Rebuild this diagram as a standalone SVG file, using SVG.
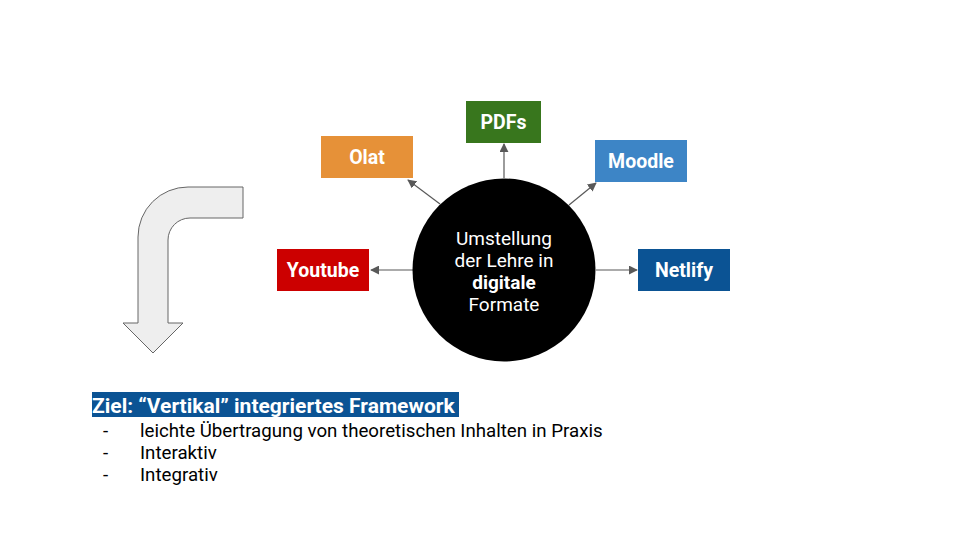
<svg xmlns="http://www.w3.org/2000/svg" width="960" height="540" viewBox="0 0 960 540">
<defs>
<marker id="ah" viewBox="0 0 10 10" refX="9" refY="5" markerWidth="9" markerHeight="9" markerUnits="userSpaceOnUse" orient="auto">
<path d="M0,0 L10,5 L0,10 Z" fill="#595959"/>
</marker>
<style>
.box text{font-family:Roboto,"Liberation Sans",sans-serif;font-weight:bold;font-size:19.5px;fill:#fff;text-anchor:middle}
.conn line{stroke:#595959;stroke-width:1.2;fill:none;marker-end:url(#ah)}
.ctext{font-family:Roboto,"Liberation Sans",sans-serif;font-size:19px;fill:#fff;text-anchor:middle}
.body{font-family:Roboto,"Liberation Sans",sans-serif;font-size:18.7px;fill:#000}
</style>
</defs>
<rect width="960" height="540" fill="#fff"/>
<g id="connectors" class="conn">
<line x1="504" y1="178" x2="504" y2="144"/>
<line x1="440" y1="204" x2="408" y2="180"/>
<line x1="569" y1="205" x2="596" y2="183"/>
<line x1="413" y1="270" x2="371" y2="270"/>
<line x1="596" y1="270" x2="637" y2="270"/>
</g>
<g id="center">
<circle cx="504" cy="270" r="91.5" fill="#000"/>
<text class="ctext" x="504" y="245">Umstellung</text>
<text class="ctext" x="504" y="267">der Lehre in</text>
<text class="ctext" x="504" y="289" font-weight="bold">digitale</text>
<text class="ctext" x="504" y="311">Formate</text>
</g>
<g id="pdfs" class="box"><rect x="466" y="101" width="75" height="42" fill="#38761d"/><text x="503.5" y="129">PDFs</text></g>
<g id="olat" class="box"><rect x="321" y="136" width="92" height="42" fill="#e69138"/><text x="367" y="164">Olat</text></g>
<g id="moodle" class="box"><rect x="595" y="140" width="92" height="42" fill="#3d85c6"/><text x="641" y="168">Moodle</text></g>
<g id="youtube" class="box"><rect x="277" y="249" width="92" height="42" fill="#cc0000"/><text x="323" y="277">Youtube</text></g>
<g id="netlify" class="box"><rect x="638" y="249" width="92" height="42" fill="#0b5394"/><text x="684" y="277">Netlify</text></g>
<g id="bent-arrow">
<path d="M243,187 L188,187 A50,50 0 0 0 138,237 L138,323 L123,323 L153,353 L183,323 L168,323 L168,240 A22,22 0 0 1 190,218 L243,218 Z" fill="#eeeeee" stroke="#666" stroke-width="1"/>
</g>
<g id="goal">
<rect x="92" y="392" width="367" height="25" fill="#0b5394"/>
<text x="92" y="413" font-family="Roboto,'Liberation Sans',sans-serif" font-weight="bold" font-size="21" fill="#fff">Ziel: “Vertikal” integriertes Framework</text>
<text class="body" x="103" y="437">-</text>
<text class="body" x="140" y="437">leichte Übertragung von theoretischen Inhalten in Praxis</text>
<text class="body" x="103" y="459">-</text>
<text class="body" x="140" y="459">Interaktiv</text>
<text class="body" x="103" y="481">-</text>
<text class="body" x="140" y="481">Integrativ</text>
</g>
</svg>
